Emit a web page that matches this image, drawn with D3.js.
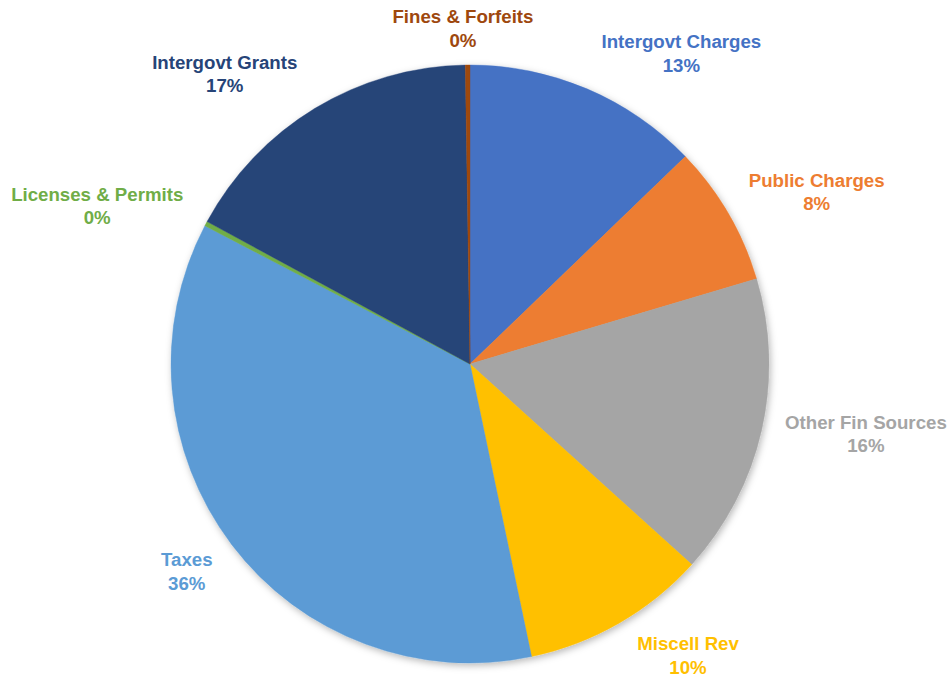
<!DOCTYPE html>
<html>
<head>
<meta charset="utf-8">
<script src="https://cdn.jsdelivr.net/npm/d3@7"></script>
<style>
  html, body { margin: 0; padding: 0; background: #fff; }
  svg { display: block; }
</style>
</head>
<body>
<svg id="chart"></svg>
<script>
// revenue share by source, clockwise from 12 o'clock
const categories = ['Intergovt Charges', 'Public Charges', 'Other Fin Sources', 'Miscell Rev',
                    'Taxes', 'Licenses & Permits', 'Intergovt Grants', 'Fines & Forfeits'];
const shares = [12.8, 7.6, 16.3, 10.0, 35.95, 0.25, 16.85, 0.25];
const colors = ['#4472C4', '#ED7D31', '#A5A5A5', '#FFC000', '#5B9BD5', '#70AD47', '#264478', '#9E480E'];

// where each label sits: angle (deg, clockwise from top) and distance from the pie centre
const labelAngle  = [34.2, 63.6, 100.0, 143.2, 233.8, 293.0, 319.8, 358.8];
const labelRadius = [376, 387, 402, 364, 351, 405, 380, 336];

const width = 952, height = 680;
const cx = 470, cy = 364, radius = 299;

const svg = d3.select('#chart')
  .attr('width', width)
  .attr('height', height);

const defs = svg.append('defs');
const shadow = defs.append('filter')
  .attr('id', 'shadow')
  .attr('x', '-10%').attr('y', '-10%')
  .attr('width', '120%').attr('height', '120%');
shadow.append('feDropShadow')
  .attr('dx', 1.5).attr('dy', 2.5)
  .attr('stdDeviation', 3.5)
  .attr('flood-color', '#000')
  .attr('flood-opacity', 0.28);

const data = categories.map((c, i) => ({ name: c, value: shares[i], color: colors[i], i }));
const total = d3.sum(shares);

const pie = d3.pie()
  .value(d => d.value)
  .sort(null);

const arc = d3.arc()
  .innerRadius(0)
  .outerRadius(radius);

const g = svg.append('g')
  .attr('transform', `translate(${cx}, ${cy})`);

g.append('g')
  .attr('filter', 'url(#shadow)')
  .selectAll('path')
  .data(pie(data))
  .enter()
  .append('path')
  .attr('d', arc)
  .attr('fill', d => d.data.color)
  .attr('stroke', d => d.data.color)
  .attr('stroke-width', 0.4);

const labels = g.selectAll('.label')
  .data(data)
  .enter()
  .append('text')
  .attr('class', 'label')
  .attr('text-anchor', 'middle')
  .attr('font-family', '"Liberation Sans", Arial, sans-serif')
  .attr('font-weight', 'bold')
  .attr('font-size', 18.67)
  .attr('fill', d => d.color)
  .attr('transform', d => {
    const a = labelAngle[d.i] * Math.PI / 180;
    const r = labelRadius[d.i];
    return `translate(${r * Math.sin(a)}, ${-r * Math.cos(a)})`;
  });

labels.append('tspan')
  .attr('x', 0).attr('y', -5)
  .text(d => d.name);

labels.append('tspan')
  .attr('x', 0).attr('y', 18.5)
  .text(d => Math.round(d.value / total * 100) + '%');
</script>
</body>
</html>
